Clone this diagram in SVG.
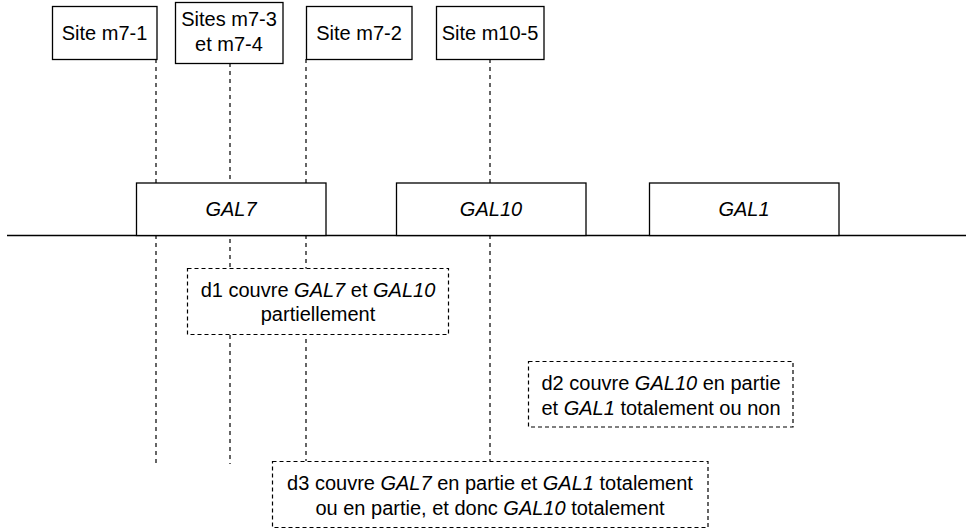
<svg xmlns="http://www.w3.org/2000/svg" width="966" height="530" viewBox="0 0 966 530">
<style>
text{font-family:"Liberation Sans",Arial,Helvetica,sans-serif;font-size:20px;fill:#000;text-anchor:middle}
.i{font-style:italic}
.box{fill:#fff;stroke:#000;stroke-width:1.3}
.dbox{fill:#fff;stroke:#000;stroke-width:1.2;stroke-dasharray:4 3}
.dl{stroke:#000;stroke-width:1.2;stroke-dasharray:4 4;fill:none}
.axis{stroke:#000;stroke-width:1.5}
</style>
<rect width="966" height="530" fill="#fff"/>
<g id="connectors">
<line class="axis" x1="7" y1="235.5" x2="966" y2="235.5"/>
<line class="dl" x1="156" y1="59" x2="156" y2="464"/>
<line class="dl" x1="230" y1="63" x2="230" y2="464"/>
<line class="dl" x1="306" y1="59" x2="306" y2="461"/>
<line class="dl" x1="490" y1="59" x2="490" y2="461"/>
</g>
<g id="site-m7-1"><rect class="box" x="52.5" y="6.5" width="104.5" height="53"/><text x="104.5" y="40">Site m7-1</text></g>
<g id="sites-m7-3-m7-4"><rect class="box" x="175.5" y="2.5" width="107.5" height="61"/><text x="229" y="26">Sites m7-3</text><text x="229" y="51">et m7-4</text></g>
<g id="site-m7-2"><rect class="box" x="306.5" y="6.5" width="105.5" height="53"/><text x="359" y="40">Site m7-2</text></g>
<g id="site-m10-5"><rect class="box" x="436.5" y="6.5" width="107.5" height="53"/><text x="490" y="40">Site m10-5</text></g>
<g id="gal7"><rect class="box" x="136.5" y="183" width="189.5" height="52.5"/><text class="i" x="231" y="216">GAL7</text></g>
<g id="gal10"><rect class="box" x="396.5" y="183" width="189.5" height="52.5"/><text class="i" x="491" y="216">GAL10</text></g>
<g id="gal1"><rect class="box" x="649.5" y="183" width="189.5" height="52.5"/><text class="i" x="744" y="216">GAL1</text></g>
<g id="d1"><rect class="dbox" x="187.5" y="268.5" width="261" height="66"/><text x="318" y="297">d1 couvre <tspan class="i">GAL7</tspan> et <tspan class="i">GAL10</tspan></text><text x="318" y="321">partiellement</text></g>
<g id="d2"><rect class="dbox" x="528.5" y="361.5" width="264.5" height="65.5"/><text x="661" y="390">d2 couvre <tspan class="i">GAL10</tspan> en partie</text><text x="661" y="415">et <tspan class="i">GAL1</tspan> totalement ou non</text></g>
<g id="d3"><rect class="dbox" x="272.5" y="461.5" width="435.5" height="66"/><text x="490" y="490">d3 couvre <tspan class="i">GAL7</tspan> en partie et <tspan class="i">GAL1</tspan> totalement</text><text x="490" y="515">ou en partie, et donc <tspan class="i">GAL10</tspan> totalement</text></g>
</svg>
